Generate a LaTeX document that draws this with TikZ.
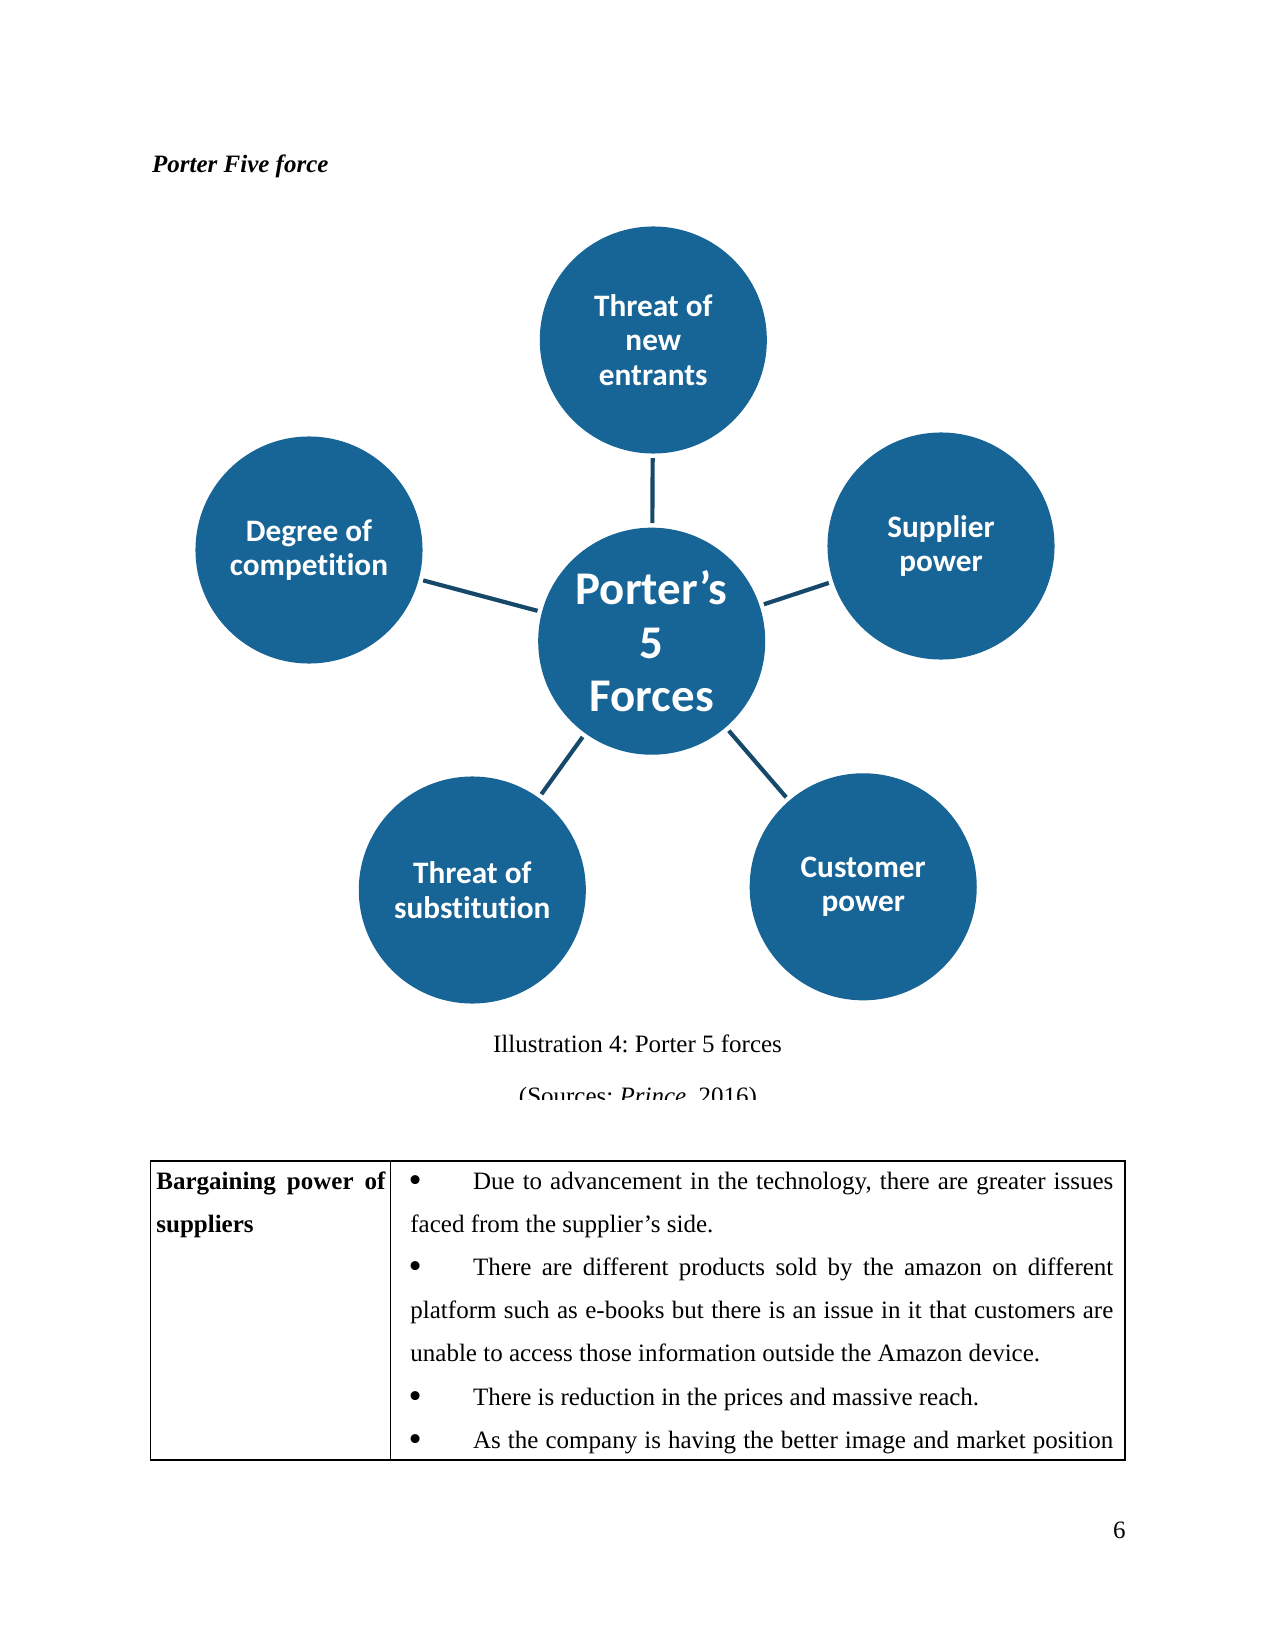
\documentclass[tikz,border=0pt]{standalone}
\usepackage{fontspec}
\setmainfont{Liberation Serif}
\newfontfamily\forcefont[Ligatures=NoCommon]{Carlito}
\usepackage{tikz}
\usetikzlibrary{calc}
\frenchspacing

\definecolor{porterblue}{RGB}{23,100,150}
\definecolor{linkblue}{RGB}{22,72,105}
\newcommand{\pointmark}{\makebox[30.1pt][l]{\hspace{-0.9pt}\raisebox{-1.6pt}{\scalebox{1.5}{\textbullet}}}}

\tikzset{
  force/.style={circle, fill=porterblue, minimum size=109pt, inner sep=0pt,
    text=white, align=center, font=\forcefont\bfseries\fontsize{15}{16.7}\selectfont},
  hub/.style={force, font=\forcefont\bfseries\fontsize{22.5}{25.7}\selectfont},
  link/.style={draw=linkblue, line width=2pt, shorten >=2pt, shorten <=2pt},
  bodytext/.style={inner sep=0pt, font=\fontsize{12}{20.74}\selectfont},
}

\begin{document}
\begin{tikzpicture}[x=0.48pt, y=-0.48pt]
  \useasboundingbox[fill=white] (0,0) rectangle (1275,1650);

  % heading
  \node[bodytext, anchor=base west, font=\bfseries\itshape\fontsize{12}{14}\selectfont] (heading) at (151.7,172.7) {Porter Five force};

  % the five forces
  \node[hub] (core) at (651.7,641.2) {Porter’s\\5\\Forces};
  \node[force] (entrants) at (653.3,340) {Threat of\\new\\entrants};
  \node[force] (supplier) at (941,546) {Supplier\\power};
  \node[force] (rivalry) at (309,550) {Degree of\\competition};
  \node[force] (substitute) at (472.3,890) {Threat of\\substitution};
  \node[force] (customer) at (863.2,886.8) {Customer\\power};

  \foreach \f in {entrants, supplier, rivalry, substitute, customer}
    \draw[link] (core) -- (\f);

  % caption
  \node[bodytext, anchor=base] (caption) at (637.5,1052.7) {Illustration 4: Porter 5 forces};
  \begin{scope}
    \clip (0,0) rectangle (1275,1099);
    \node[bodytext, anchor=base] (source) at (638,1104) {(Sources: \textit{Prince}, 2016)};
  \end{scope}

  % table
  \draw[line width=0.5pt] (150.7,1161) rectangle (1125,1460);
  \draw[line width=0.5pt] (390.6,1161) -- (390.6,1460);
  \node[bodytext, anchor=base west, text width=110pt, align=justify,
    font=\bfseries\fontsize{12}{20.74}\selectfont] (factor) at (156,1189) {Bargaining power of suppliers};
  \node[bodytext, anchor=base west, text width=337.4pt, align=justify] (points) at (410,1189) {%
    \hyphenpenalty=10000 \exhyphenpenalty=10000
    \pointmark Due to advancement in the technology, there are greater issues\linebreak faced from the supplier's side.\par
    \pointmark There are different products sold by the amazon on different\linebreak platform such as e-books but there is an issue in it that customers are\linebreak unable to access those information outside the Amazon device.\par
    \pointmark There is reduction in the prices and massive reach.\par
    {\parfillskip=0pt \pointmark As the company is having the better image and market position\par}};

  % page number
  \node[bodytext, anchor=base east] (pageno) at (1126,1538) {6};
\end{tikzpicture}
\end{document}
